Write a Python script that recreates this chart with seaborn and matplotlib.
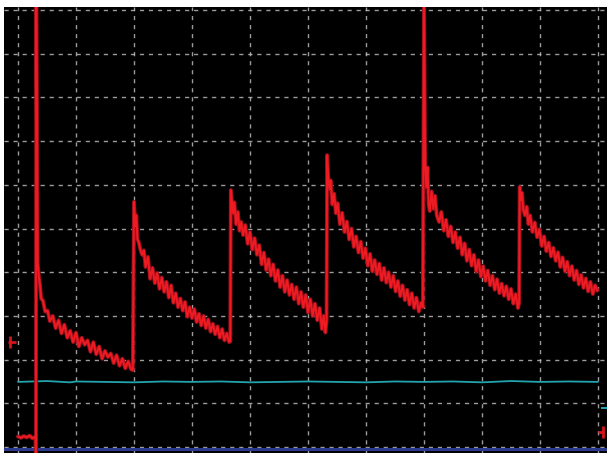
import matplotlib
matplotlib.use("Agg")
import matplotlib.pyplot as plt
import seaborn as sns
import pandas as pd

# ---- data (screen divisions: x = time div, y = vertical div) ----
pre_t = [0.0, 0.05, 0.10, 0.15, 0.20, 0.25, 0.30, 0.31, 0.315]
pre_v = [0.24, 0.21, 0.25, 0.22, 0.26, 0.20, 0.24, -0.30, 10.30]

p1_t = [0.34, 0.36, 0.38, 0.40, 0.43, 0.47, 0.51, 0.55, 0.60, 0.65, 0.70, 0.75,
        0.80, 0.85, 0.90, 0.95, 1.00, 1.05, 1.10, 1.15, 1.20, 1.25, 1.30, 1.35,
        1.40, 1.45, 1.50, 1.55, 1.60, 1.65, 1.70, 1.75, 1.80, 1.85, 1.90, 1.95, 1.98]
p1_v = [4.21, 3.90, 3.70, 3.40, 3.35, 3.10, 3.12, 2.88, 3.00, 2.72, 2.90, 2.60,
        2.80, 2.50, 2.66, 2.40, 2.62, 2.30, 2.50, 2.34, 2.44, 2.18, 2.40, 2.12,
        2.30, 2.02, 2.20, 2.06, 2.14, 1.92, 2.10, 1.86, 2.02, 1.80, 1.96, 1.78, 1.76]

p2_t = [2.0, 2.02, 2.04, 2.06, 2.08, 2.11, 2.14, 2.17, 2.20, 2.24, 2.28, 2.32,
        2.36, 2.40, 2.44, 2.48, 2.52, 2.56, 2.60, 2.64, 2.68, 2.72, 2.76, 2.80,
        2.84, 2.88, 2.92, 2.96, 3.00, 3.04, 3.08, 3.12, 3.16, 3.20, 3.24, 3.28,
        3.32, 3.36, 3.40, 3.44, 3.48, 3.52, 3.56, 3.60, 3.64, 3.66]
p2_v = [5.61, 5.05, 5.30, 4.75, 4.70, 4.52, 4.40, 4.50, 4.12, 4.35, 3.85, 4.10,
        3.75, 3.98, 3.62, 3.88, 3.55, 3.78, 3.42, 3.70, 3.30, 3.52, 3.20, 3.40,
        3.12, 3.32, 2.98, 3.20, 2.95, 3.16, 2.86, 3.05, 2.78, 3.00, 2.72, 2.92,
        2.64, 2.82, 2.58, 2.76, 2.50, 2.70, 2.44, 2.60, 2.40, 2.42]

p3_t = [3.67, 3.69, 3.71, 3.73, 3.76, 3.79, 3.82, 3.85, 3.88, 3.92, 3.96, 4.00,
        4.04, 4.08, 4.12, 4.16, 4.20, 4.24, 4.28, 4.32, 4.36, 4.40, 4.44, 4.48,
        4.52, 4.56, 4.60, 4.64, 4.68, 4.72, 4.76, 4.80, 4.84, 4.88, 4.92, 4.96,
        5.00, 5.04, 5.08, 5.12, 5.16, 5.20, 5.24, 5.27, 5.30, 5.32]
p3_v = [5.88, 5.60, 5.35, 5.60, 5.10, 5.38, 4.95, 5.15, 4.85, 5.08, 4.65, 4.92,
        4.52, 4.78, 4.40, 4.62, 4.18, 4.45, 4.05, 4.30, 3.92, 4.18, 3.80, 4.05,
        3.66, 3.92, 3.55, 3.82, 3.48, 3.72, 3.38, 3.66, 3.28, 3.55, 3.20, 3.48,
        3.08, 3.38, 3.00, 3.28, 2.90, 3.18, 2.70, 3.00, 2.62, 2.90]

p4_t = [5.33, 5.35, 5.37, 5.39, 5.42, 5.45, 5.48, 5.51, 5.55, 5.59, 5.63, 5.67,
        5.71, 5.75, 5.79, 5.83, 5.87, 5.91, 5.95, 5.99, 6.03, 6.07, 6.11, 6.15,
        6.19, 6.23, 6.27, 6.31, 6.35, 6.39, 6.43, 6.47, 6.51, 6.55, 6.59, 6.63,
        6.67, 6.71, 6.75, 6.79, 6.83, 6.87, 6.91, 6.95, 6.98]
p4_v = [6.68, 6.15, 5.90, 6.10, 5.55, 5.80, 5.35, 5.58, 5.10, 5.36, 4.92, 5.16,
        4.75, 5.00, 4.58, 4.82, 4.45, 4.70, 4.32, 4.55, 4.15, 4.42, 4.02, 4.28,
        3.95, 4.20, 3.82, 4.10, 3.76, 4.00, 3.66, 3.92, 3.56, 3.80, 3.45, 3.70,
        3.36, 3.60, 3.26, 3.52, 3.18, 3.42, 3.10, 3.30, 3.20]

p5_t = [7.0, 7.02, 7.04, 7.06, 7.08, 7.10, 7.13, 7.16, 7.19, 7.22, 7.26, 7.30,
        7.34, 7.38, 7.42, 7.46, 7.50, 7.54, 7.58, 7.62, 7.66, 7.70, 7.74, 7.78,
        7.82, 7.86, 7.90, 7.94, 7.98, 8.02, 8.06, 8.10, 8.14, 8.18, 8.22, 8.26,
        8.30, 8.34, 8.38, 8.42, 8.46, 8.50, 8.54, 8.58, 8.62, 8.64]
p5_v = [10.30, 6.45, 5.95, 6.40, 5.55, 5.40, 5.85, 5.45, 5.75, 5.30, 5.15, 5.38,
        4.95, 5.20, 4.82, 5.05, 4.68, 4.92, 4.55, 4.80, 4.40, 4.66, 4.26, 4.52,
        4.15, 4.40, 4.02, 4.28, 3.90, 4.14, 3.80, 4.04, 3.70, 3.92, 3.60, 3.84,
        3.52, 3.74, 3.46, 3.68, 3.38, 3.62, 3.28, 3.50, 3.18, 3.30]

p6_t = [8.65, 8.67, 8.69, 8.71, 8.74, 8.77, 8.80, 8.83, 8.87, 8.91, 8.95, 8.99,
        9.03, 9.07, 9.11, 9.15, 9.19, 9.23, 9.27, 9.31, 9.35, 9.39, 9.43, 9.47,
        9.51, 9.55, 9.59, 9.63, 9.67, 9.71, 9.75, 9.79, 9.83, 9.87, 9.91, 9.95, 9.99]
p6_v = [5.95, 5.65, 5.82, 5.45, 5.30, 5.50, 5.10, 5.30, 4.92, 5.14, 4.80, 4.98,
        4.60, 4.82, 4.48, 4.68, 4.36, 4.56, 4.26, 4.46, 4.12, 4.34, 4.02, 4.24,
        3.92, 4.14, 3.82, 4.04, 3.72, 3.94, 3.64, 3.86, 3.56, 3.78, 3.50, 3.70, 3.58]

ch2_t = [0.0, 0.5, 0.9, 1.0, 1.5, 2.0, 2.5, 3.0, 3.5, 4.0, 4.5, 5.0, 5.5, 6.0,
         6.5, 7.0, 7.5, 8.0, 8.5, 9.0, 9.5, 10.0]
ch2_v = [1.49, 1.51, 1.48, 1.50, 1.49, 1.48, 1.50, 1.49, 1.50, 1.48, 1.49, 1.50,
         1.49, 1.48, 1.50, 1.49, 1.50, 1.48, 1.51, 1.49, 1.50, 1.49]

base_t = [-0.25, 10.2]
base_v = [-0.05, -0.05]

ch1_marker_level = 2.40
ch2_marker_level = 0.89
trig_marker_level = 0.34

x_divs = list(range(11))
y_divs = list(range(11))

# ---- build table ----
red_t = pre_t + p1_t + p2_t + p3_t + p4_t + p5_t + p6_t
red_v = pre_v + p1_v + p2_v + p3_v + p4_v + p5_v + p6_v
df_red = pd.DataFrame({"t": red_t, "v": red_v})
df_ch2 = pd.DataFrame({"t": ch2_t, "v": ch2_v})
df_base = pd.DataFrame({"t": base_t, "v": base_v})

sns.set_style("dark")
fig = plt.figure(figsize=(6.07, 4.53), dpi=100, facecolor="white")
ax = fig.add_axes([4 / 607, 0.0, 603 / 607, 446 / 453])
ax.set_facecolor("black")

ax.set_xlim(-0.241, 10.155)
ax.set_ylim(-0.137, 10.07)
ax.set_xticks(x_divs)
ax.set_yticks(y_divs)
ax.set_xticklabels([])
ax.set_yticklabels([])
ax.tick_params(length=0)
ax.grid(True, color="#c4c4c4", linestyle=(0, (3, 3.5)), linewidth=1.0, alpha=0.8)
for s in ax.spines.values():
    s.set_visible(False)

sns.lineplot(data=df_base, x="t", y="v", ax=ax, color="#2b3a8f", linewidth=2.2,
             sort=False, estimator=None)
sns.lineplot(data=df_ch2, x="t", y="v", ax=ax, color="#23a3ad", linewidth=1.3,
             sort=False, estimator=None)
sns.lineplot(data=df_red, x="t", y="v", ax=ax, color="#9e0f1c", linewidth=2.8,
             sort=False, estimator=None)
sns.lineplot(data=df_red, x="t", y="v", ax=ax, color="#ee1c22", linewidth=1.4,
             sort=False, estimator=None)

# side markers
ax.plot([-0.14], [ch1_marker_level], marker="|", color="#d8141e", markersize=9,
        markeredgewidth=2, clip_on=False)
ax.plot([-0.11], [ch1_marker_level], marker="_", color="#d8141e", markersize=6,
        markeredgewidth=2, clip_on=False)
ax.plot([10.12], [ch2_marker_level], marker="_", color="#23a3ad", markersize=6,
        markeredgewidth=1.5, clip_on=False)
ax.plot([10.08], [trig_marker_level], marker="|", color="#d8141e", markersize=9,
        markeredgewidth=2, clip_on=False)
ax.plot([10.05], [trig_marker_level], marker="_", color="#d8141e", markersize=5,
        markeredgewidth=2, clip_on=False)

ax.set_xlabel("")
ax.set_ylabel("")
fig.savefig("out.png", dpi=100, facecolor="white")
